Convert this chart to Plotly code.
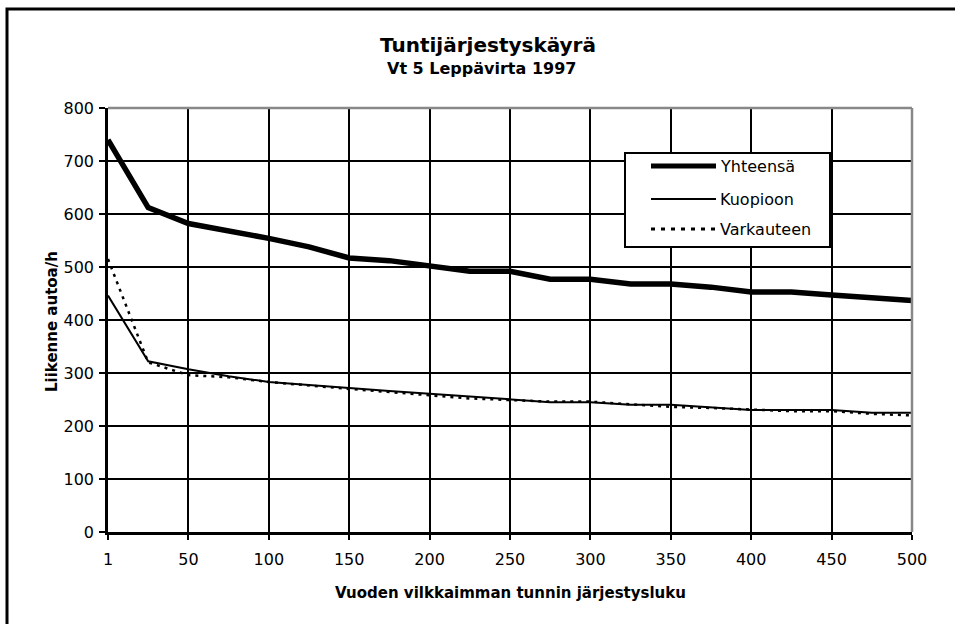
import plotly.graph_objects as go

# Hour rank categories (every 25th busiest hour of the year)
rank = ["1", "25", "50", "75", "100", "125", "150", "175", "200", "225", "250",
        "275", "300", "325", "350", "375", "400", "425", "450", "475", "500"]

# Traffic volumes, vehicles per hour
yhteensa = [740, 612, 582, 569, 554, 538, 517, 512, 502, 492, 492,
            477, 477, 468, 468, 462, 453, 453, 447, 443, 437]
kuopioon = [446, 322, 307, 294, 283, 277, 271, 266, 261, 256, 251,
            245, 245, 240, 240, 235, 230, 230, 230, 225, 225]
varkauteen = [515, 320, 296, 292, 283, 276, 270, 264, 258, 252, 249,
              246, 246, 241, 236, 234, 231, 228, 228, 223, 220]

tick_labels = ["1", "50", "100", "150", "200", "250", "300", "350", "400", "450", "500"]

FONT = "DejaVu Sans, Verdana, sans-serif"

# plot area in pixels
W, H = 955, 624
L, R, T, B = 108, 43, 108, 92
PW, PH = W - L - R, H - T - B


def px(x):
    return (x - L) / PW


def py(y):
    return (H - B - y) / PH


fig = go.Figure()
fig.add_trace(go.Scatter(x=rank, y=yhteensa, mode="lines", name="Yhteensä",
                         line=dict(color="black", width=5.5)))
fig.add_trace(go.Scatter(x=rank, y=kuopioon, mode="lines", name="Kuopioon",
                         line=dict(color="black", width=2)))
fig.add_trace(go.Scatter(x=rank, y=varkauteen, mode="lines", name="Varkauteen",
                         line=dict(color="black", width=2.5, dash="3px,5px")))

shapes = [
    # outer chart frame
    dict(type="rect", xref="paper", yref="paper",
         x0=px(7), x1=px(975), y0=py(640), y1=py(9),
         line=dict(color="black", width=3), layer="above"),
    # grey plot-area border on top and right
    dict(type="line", xref="paper", yref="paper", x0=0, x1=1, y0=1, y1=1,
         line=dict(color="#888888", width=2.5), layer="above"),
    dict(type="line", xref="paper", yref="paper", x0=1, x1=1, y0=0, y1=1,
         line=dict(color="#888888", width=2.5), layer="above"),
]

# legend box
lx0, lx1, ly0, ly1 = 625, 830, 153, 247
shapes.append(dict(type="rect", xref="paper", yref="paper",
                   x0=px(lx0), x1=px(lx1), y0=py(ly1), y1=py(ly0),
                   fillcolor="white", line=dict(color="black", width=2), layer="above"))
legend_items = [("Yhteensä", 166, dict(color="black", width=5)),
                ("Kuopioon", 199, dict(color="black", width=2)),
                ("Varkauteen", 229, dict(color="black", width=3, dash="4px,6px"))]
annotations = []
for name, yy, ln in legend_items:
    shapes.append(dict(type="line", xref="paper", yref="paper",
                       x0=px(651), x1=px(716), y0=py(yy), y1=py(yy),
                       line=ln, layer="above"))
    annotations.append(dict(text=name, xref="paper", yref="paper",
                            x=px(718), y=py(yy), xanchor="left", yanchor="middle",
                            showarrow=False, font=dict(family=FONT, size=16, color="black")))

annotations += [
    dict(text="<b>Tuntijärjestyskäyrä</b>", xref="paper", yref="paper",
         x=px(488), y=py(45), xanchor="center", yanchor="middle", showarrow=False,
         font=dict(family=FONT, size=20, color="black")),
    dict(text="<b>Vt 5 Leppävirta 1997</b>", xref="paper", yref="paper",
         x=px(481), y=py(68), xanchor="center", yanchor="middle", showarrow=False,
         font=dict(family=FONT, size=16, color="black")),
    dict(text="<b>Vuoden vilkkaimman tunnin järjestysluku</b>", xref="paper", yref="paper",
         x=px(510), y=py(593), xanchor="center", yanchor="middle", showarrow=False,
         font=dict(family=FONT, size=15, color="black")),
    dict(text="<b>Liikenne autoa/h</b>", xref="paper", yref="paper",
         x=px(52), y=py(322), xanchor="center", yanchor="middle", showarrow=False,
         textangle=-90, font=dict(family=FONT, size=15, color="black")),
]

fig.update_layout(
    width=W, height=H,
    margin=dict(l=L, r=R, t=T, b=B),
    paper_bgcolor="white", plot_bgcolor="white",
    showlegend=False,
    font=dict(family=FONT, size=16, color="black"),
    shapes=shapes, annotations=annotations,
)
fig.update_xaxes(
    type="category", range=[0, 20],
    tickmode="array", tickvals=rank[::2], ticktext=tick_labels,
    showgrid=True, gridcolor="black", gridwidth=1.5,
    showline=True, linecolor="black", linewidth=3,
    ticks="outside", ticklen=5, tickwidth=2, tickcolor="black",
    ticklabelstandoff=6,
    tickfont=dict(family=FONT, size=16),
    zeroline=False,
)
fig.update_yaxes(
    range=[0, 800], dtick=100, tick0=0,
    showgrid=True, gridcolor="black", gridwidth=1.5,
    showline=True, linecolor="black", linewidth=2.5,
    ticks="outside", ticklen=6, tickwidth=2, tickcolor="black",
    ticklabelstandoff=2,
    tickfont=dict(family=FONT, size=16),
    zeroline=False,
)

fig.write_html("out.html")
